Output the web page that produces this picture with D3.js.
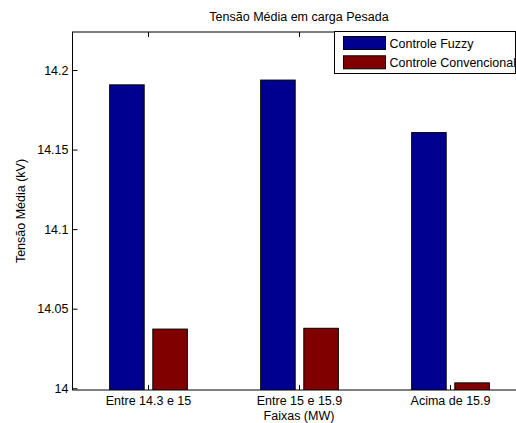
<!DOCTYPE html>
<html>
<head>
<meta charset="utf-8">
<script src="https://cdn.jsdelivr.net/npm/d3@7"></script>
<style>
  html, body { margin: 0; padding: 0; background: #fff; }
  svg { display: block; }
  text { font-family: "Liberation Sans", Arial, sans-serif; fill: #000; }
</style>
</head>
<body>
<div id="chart"></div>
<script>
// ---- data ----
const categories = ["Entre 14.3 e 15", "Entre 15 e 15.9", "Acima de 15.9"];
const seriesNames = ["Controle Fuzzy", "Controle Convencional"];
const fuzzyValues = [14.191, 14.194, 14.161];
const convValues = [14.0375, 14.038, 14.0037];
const yTickValues = [14, 14.05, 14.1, 14.15, 14.2];
const yTickLabels = ["14", "14.05", "14.1", "14.15", "14.2"];
const titleText = "Tensão Média em carga Pesada";
const xLabelText = "Faixas (MW)";
const yLabelText = "Tensão Média (kV)";
const colors = ["#000090", "#800000"];

const W = 516, H = 423;
const pL = 72.5, pR = 525.5, pT = 32, pB = 390;
const fs = "12.5px";

const svg = d3.select("#chart").append("svg").attr("width", W).attr("height", H);

const x = d3.scaleLinear().domain([0.5, 3.5]).range([pL, pR]);
const y = d3.scaleLinear().domain([13.9989, 14.2239]).range([pB, pT]);

const series = [fuzzyValues, convValues];
const barW = 0.2286, offsets = [-0.1429, 0.1429];

// clip plot area
svg.append("clipPath").attr("id", "plotClip").append("rect")
  .attr("x", pL).attr("y", pT).attr("width", pR - pL).attr("height", pB - pT);

const plot = svg.append("g").attr("clip-path", "url(#plotClip)");
series.forEach((vals, s) => {
  plot.selectAll(null).data(vals).enter().append("rect")
    .attr("x", (d, i) => x(i + 1 + offsets[s] - barW / 2) + 0.5)
    .attr("y", d => y(d) + 0.5)
    .attr("width", (d, i) => x(i + 1 + offsets[s] + barW / 2) - x(i + 1 + offsets[s] - barW / 2))
    .attr("height", d => pB - y(d) + 2)
    .attr("fill", colors[s])
    .attr("stroke", "#000").attr("stroke-width", 1);
});

// axes box
svg.append("rect").attr("x", pL).attr("y", pT).attr("width", pR - pL).attr("height", pB - pT)
  .attr("fill", "none").attr("stroke", "#000").attr("stroke-width", 1);

// y axis
const yAxis = d3.axisLeft(y).tickValues(yTickValues)
  .tickFormat((d, i) => yTickLabels[i]).tickSizeInner(-5).tickSizeOuter(0).tickPadding(4);
const gy = svg.append("g").attr("transform", `translate(${pL},0)`).call(yAxis);
gy.select(".domain").remove();
gy.selectAll("text").style("font-size", fs).style("font-family", "'Liberation Sans', Arial, sans-serif");
gy.selectAll("line").attr("stroke", "#000");
const gyr = svg.append("g").attr("transform", `translate(${pR},0)`)
  .call(d3.axisRight(y).tickValues(yTickValues).tickFormat("").tickSizeInner(-5).tickSizeOuter(0));
gyr.select(".domain").remove();

// x axis
const xAxis = d3.axisBottom(x).tickValues([1, 2, 3])
  .tickFormat((d, i) => categories[i]).tickSizeInner(-5).tickSizeOuter(0).tickPadding(6);
const gx = svg.append("g").attr("transform", `translate(0,${pB})`).call(xAxis);
gx.select(".domain").remove();
gx.selectAll("text").style("font-size", fs).style("font-family", "'Liberation Sans', Arial, sans-serif");
gx.selectAll("line").attr("stroke", "#000");
const gxt = svg.append("g").attr("transform", `translate(0,${pT})`)
  .call(d3.axisTop(x).tickValues([1, 2, 3]).tickFormat("").tickSizeInner(-5).tickSizeOuter(0));
gxt.select(".domain").remove();

// title & labels
svg.append("text").attr("x", (pL + pR) / 2).attr("y", 21).attr("text-anchor", "middle")
  .style("font-size", fs).text(titleText);
svg.append("text").attr("x", (pL + pR) / 2).attr("y", 419.5).attr("text-anchor", "middle")
  .style("font-size", fs).text(xLabelText);
svg.append("text").attr("transform", `translate(24.5,${(pT + pB) / 2}) rotate(-90)`)
  .attr("text-anchor", "middle").style("font-size", fs).text(yLabelText);

// legend
const lg = { x: 334, y: 31.5, w: 181, h: 42 };
svg.append("clipPath").attr("id", "legClip").append("rect")
  .attr("x", lg.x).attr("y", lg.y).attr("width", lg.w).attr("height", lg.h);
const leg = svg.append("g");
leg.append("rect").attr("x", lg.x + 0.5).attr("y", lg.y).attr("width", lg.w).attr("height", lg.h)
  .attr("fill", "#fff").attr("stroke", "#000").attr("stroke-width", 1);
const legInner = leg.append("g").attr("clip-path", "url(#legClip)");
seriesNames.forEach((name, i) => {
  legInner.append("rect").attr("x", 343.5).attr("y", 36.5 + i * 19.3).attr("width", 42).attr("height", 13)
    .attr("fill", colors[i]).attr("stroke", "#000").attr("stroke-width", 1);
  legInner.append("text").attr("x", 389.5).attr("y", 47.5 + i * 19.5)
    .style("font-size", fs).text(name);
});
</script>
</body>
</html>
